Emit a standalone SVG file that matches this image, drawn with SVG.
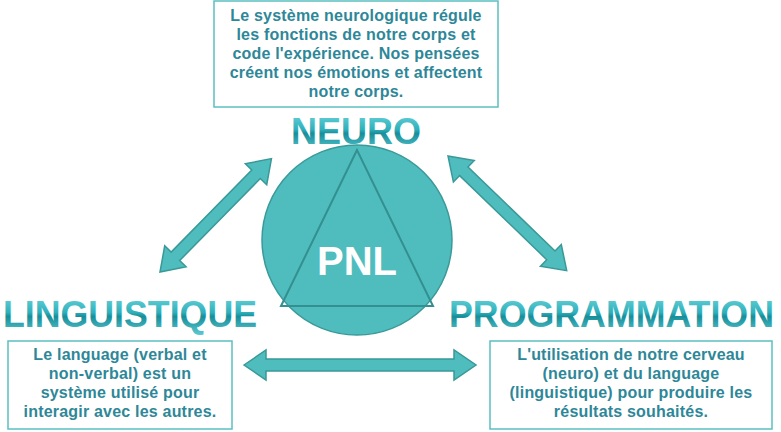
<svg xmlns="http://www.w3.org/2000/svg" width="781" height="432" viewBox="0 0 781 432">
<defs>
<linearGradient id="tg" x1="0" y1="0" x2="0" y2="1">
<stop offset="0" stop-color="#6fd6dc"/><stop offset="0.45" stop-color="#2fb0bb"/><stop offset="0.55" stop-color="#178e9a"/><stop offset="1" stop-color="#5ccad2"/>
</linearGradient>
<style>
.box{fill:#fff;stroke:#5bbfc0;stroke-width:1.5}
.t{font-family:"Liberation Sans",Arial,sans-serif;font-weight:bold;font-size:16px;letter-spacing:0.2px;fill:#2e8798;text-anchor:middle}
.big{font-family:"Liberation Sans",Arial,sans-serif;font-weight:bold;font-size:37px;fill:url(#tg)}
.arr{fill:#4fbdbd;stroke:#3a9898;stroke-width:1.5}
</style>
</defs>
<rect width="781" height="432" fill="#fff"/>
<g id="connectors">
<path class="arr" transform="translate(160,272) rotate(-45.5)" d="M0,0 L22,-15 L22,-6 L137,-6 L137,-15 L159,0 L137,15 L137,6 L22,6 L22,15 Z"/>
<path class="arr" transform="translate(448,156) rotate(44)" d="M0,0 L22,-15 L22,-6 L143,-6 L143,-15 L165,0 L143,15 L143,6 L22,6 L22,15 Z"/>
<path class="arr" transform="translate(244,365)" d="M0,0 L22,-15 L22,-6 L210,-6 L210,-15 L232,0 L210,15 L210,6 L22,6 L22,15 Z"/>
</g>
<g id="pnl">
<circle cx="357" cy="240" r="95" fill="#4fbdbd" stroke="#3a9a9a" stroke-width="1.5"/>
<polygon points="357,150 281,306 433,306" fill="none" stroke="#338f90" stroke-width="2"/>
<text x="357" y="275" font-family="Liberation Sans,Arial,sans-serif" font-size="40" font-weight="bold" fill="#fff" text-anchor="middle">PNL</text>
</g>
<g id="neuro">
<rect class="box" x="214" y="1" width="284" height="106"/>
<text class="t" x="356" y="21">Le système neurologique régule</text>
<text class="t" x="356" y="40">les fonctions de notre corps et</text>
<text class="t" x="356" y="59">code l'expérience. Nos pensées</text>
<text class="t" x="356" y="78">créent nos émotions et affectent</text>
<text class="t" x="356" y="97">notre corps.</text>
<text class="big" x="291" y="144" textLength="130" lengthAdjust="spacingAndGlyphs">NEURO</text>
</g>
<g id="linguistique">
<text class="big" x="3" y="327" textLength="254" lengthAdjust="spacingAndGlyphs">LINGUISTIQUE</text>
<rect class="box" x="8" y="341" width="224" height="88"/>
<text class="t" x="120" y="360">Le language (verbal et</text>
<text class="t" x="120" y="379">non-verbal) est un</text>
<text class="t" x="120" y="398">système utilisé pour</text>
<text class="t" x="120" y="417">interagir avec les autres.</text>
</g>
<g id="programmation">
<text class="big" x="449" y="327" textLength="325" lengthAdjust="spacingAndGlyphs">PROGRAMMATION</text>
<rect class="box" x="490" y="341" width="282" height="88"/>
<text class="t" x="631" y="360">L'utilisation de notre cerveau</text>
<text class="t" x="631" y="379">(neuro) et du language</text>
<text class="t" x="631" y="398">(linguistique) pour produire les</text>
<text class="t" x="631" y="417">résultats souhaités.</text>
</g>
</svg>
